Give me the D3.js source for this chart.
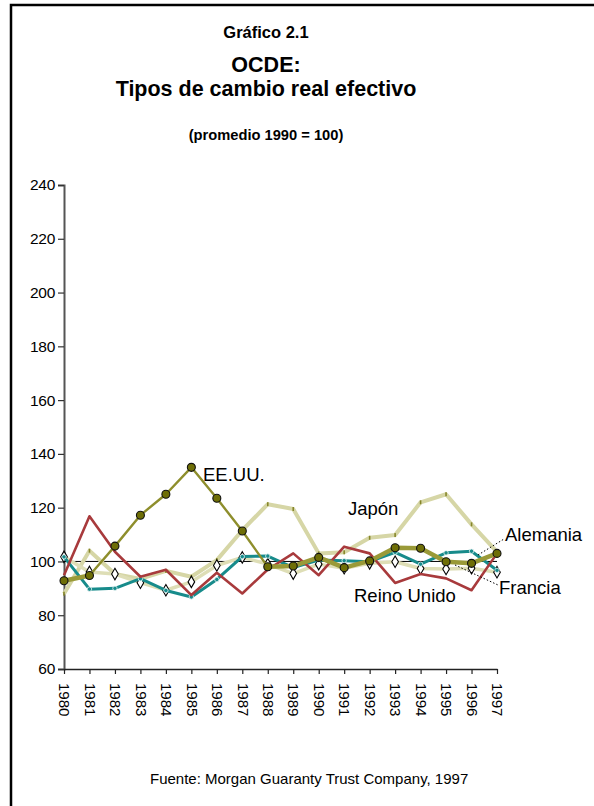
<!DOCTYPE html>
<html><head><meta charset="utf-8">
<script src="https://cdn.jsdelivr.net/npm/d3@7"></script>
<style>body{margin:0;background:#fff}svg{display:block}text{font-family:"Liberation Sans",Arial,sans-serif}</style>
</head><body>
<svg id="c" width="594" height="806"></svg>
<script>
const years = [1980,1981,1982,1983,1984,1985,1986,1987,1988,1989,1990,1991,1992,1993,1994,1995,1996,1997];
const eeuu   = [92.8,94.8,105.7,117.2,125,135,123.5,111.3,98,98.3,101.5,97.7,100.2,105.1,104.9,99.9,99.3,103];
const japon  = [88,104,95.3,93.5,96.5,94.3,100.5,111.6,121.3,119.5,103,103.4,108.8,109.8,122,125,113.8,103.6];
const francia= [101.7,96.1,95.3,92.1,89.3,92.4,98.5,101.5,99,95.5,99,97.5,99.3,99.9,97.4,97.2,97.5,96];
const alemania=[101.7,89.7,90,93.6,89.2,86.8,93.3,101.8,102,97.7,100.5,100.3,99.9,103.4,99,103.2,103.8,96.7];
const reino  = [94.9,116.8,103.6,94.3,96.9,87.5,95.8,88.1,97,103,94.9,105.5,103,92,95.3,93.7,89.3,103];
const yTicks = [60,80,100,120,140,160,180,200,220,240];
const eeuuThick = [[0,1],[8,17]];

const svg = d3.select("#c");
// frame
svg.append("rect").attr("x",11).attr("y",5).attr("width",620).attr("height",840)
  .attr("fill","none").attr("stroke","#000").attr("stroke-width",2.5);

const x = d3.scalePoint().domain(years).range([64,497]);
const y = d3.scaleLinear().domain([60,240]).range([669,185]);

// titles
const cx=266;
svg.append("text").attr("x",cx).attr("y",38).attr("text-anchor","middle").attr("font-weight","bold").attr("font-size",16.5).text("Gráfico 2.1");
svg.append("text").attr("x",cx).attr("y",72).attr("text-anchor","middle").attr("font-weight","bold").attr("font-size",21.5).text("OCDE:");
svg.append("text").attr("x",cx).attr("y",96).attr("text-anchor","middle").attr("font-weight","bold").attr("font-size",21.5).text("Tipos de cambio real efectivo");
svg.append("text").attr("x",cx).attr("y",140).attr("text-anchor","middle").attr("font-weight","bold").attr("font-size",14.7).text("(promedio 1990 = 100)");

// axes
const ya = svg.append("g").attr("transform","translate(64,0)")
  .call(d3.axisLeft(y).tickValues(yTicks).tickSize(6).tickPadding(3).tickFormat(d3.format("d")));
ya.select(".domain").attr("stroke","#555").attr("stroke-width",2);
ya.selectAll(".tick line").attr("stroke","#333").attr("stroke-width",1.2);
ya.selectAll("text").attr("font-size",15.5).attr("letter-spacing",-0.3).attr("fill","#000");

const xa = svg.append("g").attr("transform","translate(0,669)")
  .call(d3.axisBottom(x).tickSize(5).tickSizeOuter(0).tickFormat(d3.format("d")));
xa.select(".domain").attr("stroke","#222").attr("stroke-width",1.5);
xa.selectAll(".tick line").attr("stroke","#222").attr("stroke-width",1.2);
xa.selectAll("text").attr("font-size",15).attr("fill","#000")
  .attr("transform","rotate(90)").attr("text-anchor","start").attr("dy","0.35em").attr("y",0).attr("x",14);

// reference line 100
svg.append("line").attr("x1",x(1980)).attr("x2",x(1997)).attr("y1",y(100)).attr("y2",y(100))
  .attr("stroke","#000").attr("stroke-width",1);

const line = d3.line().x((d,i)=>x(years[i])).y(d=>y(d));
const path = (data,color,w)=>svg.append("path").attr("d",line(data)).attr("fill","none")
  .attr("stroke",color).attr("stroke-width",w).attr("stroke-linejoin","round");

// Japón
path(japon,"#d6d6a6",4);
svg.selectAll(".jm").data(japon).join("rect").attr("x",(d,i)=>x(years[i])-0.8).attr("y",d=>y(d)-2)
  .attr("width",1.6).attr("height",4).attr("fill","#86862a");
// Francia
path(francia,"#dedeb6",3.5);
svg.selectAll(".fm").data(francia).join("path")
  .attr("d",d3.symbol().type(d3.symbolDiamond).size(38))
  .attr("transform",(d,i)=>`translate(${x(years[i])},${y(d)})`)
  .attr("fill","#fff").attr("stroke","#000").attr("stroke-width",1.1);
// Alemania (teal)
path(alemania,"#178b8b",3);
svg.selectAll(".am").data(alemania).join("circle").attr("cx",(d,i)=>x(years[i])).attr("cy",d=>y(d))
  .attr("r",2.2).attr("fill","#178b8b").attr("stroke","#e8f4f4").attr("stroke-width",0.8);
// Reino Unido
path(reino,"#a83a3c",2.6);
// EE.UU.
path(eeuu,"#8e8e2c",2.4);
eeuuThick.forEach(([a,b])=>{
  const seg=eeuu.slice(a,b+1);
  const l2=d3.line().x((d,i)=>x(years[a+i])).y(d=>y(d));
  svg.append("path").attr("d",l2(seg)).attr("fill","none").attr("stroke","#9a9a38").attr("stroke-width",4.5).attr("stroke-linejoin","round");
});
svg.selectAll(".em").data(eeuu).join("circle").attr("cx",(d,i)=>x(years[i])).attr("cy",d=>y(d))
  .attr("r",4).attr("fill","#6e6e06").attr("stroke","#111").attr("stroke-width",1.1);

// labels
const lab=(t,xx,yy)=>svg.append("text").attr("x",xx).attr("y",yy).attr("font-size",18.5).attr("fill","#000").text(t);
lab("EE.UU.",203,481);
lab("Japón",348,515);
lab("Alemania",505,541);
lab("Francia",499,594);
lab("Reino Unido",354,602);
svg.append("line").attr("x1",478).attr("y1",555).attr("x2",504).attr("y2",539).attr("stroke","#000").attr("stroke-width",1).attr("stroke-dasharray","1.5,2");
svg.append("line").attr("x1",455).attr("y1",565).attr("x2",498).attr("y2",585).attr("stroke","#000").attr("stroke-width",1).attr("stroke-dasharray","1.5,2");

// source
svg.append("text").attr("x",150).attr("y",784).attr("font-size",15).attr("fill","#000")
  .text("Fuente: Morgan Guaranty Trust Company, 1997");
</script>
</body></html>
